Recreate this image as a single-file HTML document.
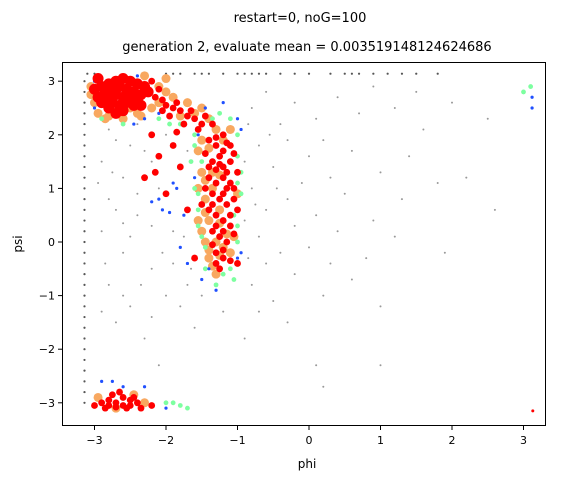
<!DOCTYPE html>
<html><head><meta charset="utf-8"><style>
body{margin:0;background:#fff;font-family:"Liberation Sans","DejaVu Sans",sans-serif;}
svg text{font-family:"DejaVu Sans","Liberation Sans",sans-serif;}
</style></head><body>
<svg id="chart" width="565" height="480" viewBox="0 0 565 480" xmlns="http://www.w3.org/2000/svg">
<text x="300" y="22" font-size="13" text-anchor="middle">restart=0, noG=100</text>
<text x="307" y="51" font-size="13" text-anchor="middle">generation 2, evaluate mean = 0.003519148124624686</text>
<g id="marks"></g>
<rect x="62.5" y="62.5" width="483" height="363" fill="none" stroke="#000" stroke-width="1"/>
<g id="axes"></g>
<text x="307" y="468" font-size="12" text-anchor="middle">phi</text>
<text x="22" y="244" font-size="12" text-anchor="middle" transform="rotate(-90 22 244)">psi</text>
</svg>
<script>
const xTicks=[-3,-2,-1,0,1,2,3];
const yTicks=[-3,-2,-1,0,1,2,3];
const redPts=[[-2.9,2.9],[-2.8,2.95],[-2.7,3.0],[-2.6,3.05],[-2.5,3.0],[-2.4,2.95],[-2.3,2.9],[-2.85,2.8],[-2.75,2.85],[-2.65,2.9],[-2.55,2.85],[-2.45,2.8],[-2.35,2.75],[-2.25,2.8],[-2.95,2.7],[-2.8,2.7],[-2.7,2.75],[-2.6,2.7],[-2.5,2.7],[-2.4,2.65],[-2.9,2.6],[-2.75,2.6],[-2.65,2.55],[-2.55,2.6],[-2.45,2.55],[-2.8,2.5],[-2.6,2.45],[-2.7,2.4],[-2.15,2.7],[-2.05,2.65],[-2.0,2.55],[-1.9,2.5],[-1.8,2.45],[-1.7,2.35],[-1.6,2.3],[-1.5,2.2],[-1.95,2.35],[-1.75,2.2],[-3.0,2.85],[-2.95,3.05],[-2.2,3.0],[-2.1,2.85],[-2.35,2.55],[-1.85,2.6],[-1.65,2.45],[-1.45,2.35],[-1.35,2.2],[-1.55,2.1],[-2.05,2.45],
[-1.4,1.9],[-1.3,1.8],[-1.2,1.7],[-1.1,1.8],[-1.35,1.5],[-1.2,1.4],[-1.1,1.5],[-1.4,1.2],[-1.3,1.1],[-1.2,1.2],[-1.05,1.0],[-1.35,0.9],[-1.25,0.8],[-1.15,0.7],[-1.4,0.6],[-1.3,0.5],[-1.2,0.4],[-1.1,0.3],[-1.35,0.2],[-1.25,0.1],[-1.15,0.0],[-1.3,-0.2],[-1.2,-0.3],[-1.45,1.0],[-1.5,0.7],[-1.0,1.3],[-1.0,0.6],[-1.25,1.6],[-1.15,1.0],[-1.3,0.3],[-1.2,2.0],[-1.1,1.1],[-1.25,-0.5],[-1.3,1.95],[-1.15,1.85],[-1.05,1.65],[-1.3,1.35],[-1.15,1.3],[-1.05,0.8],[-1.2,0.9],[-1.35,0.7],[-1.1,0.5],[-1.2,0.2],[-1.05,0.15],[-1.35,-0.05],[-1.2,-0.15],[-1.1,-0.35],[-1.3,-0.4],[-1.4,1.4],[-1.45,1.65],[-1.25,1.45],
[-2.2,2.0],[-1.9,1.8],[-2.3,1.2],[-1.7,0.6],[-1.8,1.4],[-2.0,0.9],[-1.6,-0.3],[-1.0,-0.4],[-2.1,1.6],[-1.85,2.05],[-2.15,1.3],
[-2.9,-3.0],[-2.8,-2.95],[-2.7,-3.0],[-2.6,-3.05],[-2.5,-2.95],[-2.4,-3.0],[-2.75,-2.85],[-2.6,-2.9],[-2.85,-3.1],[-2.55,-3.1],[-2.35,-3.1],[-2.65,-2.8],[-2.2,-3.05],[-3.0,-3.05],[-2.7,-3.08],[-2.5,-3.05],[-2.8,-3.05],[-2.45,-2.9],[3.13,-3.15]];
const orangePts=[[-3.05,2.9],[-3.0,2.6],[-2.95,2.4],[-2.85,2.3],[-2.6,2.3],[-2.4,2.4],[-2.2,2.5],[-2.1,2.9],[-2.0,3.05],[-2.3,3.1],[-1.9,2.7],[-1.7,2.6],[-1.5,2.5],[-1.4,2.3],[-1.3,2.1],[-1.55,1.7],[-1.5,1.3],[-1.55,0.4],[-1.45,0.0],[-1.4,-0.3],[-1.3,-0.6],[-1.1,-0.2],[-1.05,0.1],[-1.0,0.9],[-1.1,2.1],[-1.45,0.8],[-1.35,1.3],[-1.25,0.6],[-1.4,0.4],[-1.2,-0.1],[-2.95,-2.9],[-2.45,-2.85],[-2.3,-3.0],[-2.7,-3.1],[-2.5,2.5],[-1.45,0.55],[-1.5,0.2],[-1.4,-0.15],[-1.3,0.0],[-1.25,0.35],[-1.35,1.0],[-1.45,1.15],[-1.25,1.25],[-1.4,1.75],[-1.2,1.9],[-1.15,0.15],[-1.25,-0.25],[-1.35,-0.45],[-1.6,2.4],[-1.8,2.35],[-2.1,2.6],[-2.35,2.35],[-2.8,2.35],[-3.05,2.75],[-2.0,2.8],[-1.55,1.0],[-1.5,1.9]];
const greenPts=[[-1.0,1.6],[-1.05,0.5],[-1.55,0.3],[-1.5,1.5],[-1.6,2.0],[-1.8,2.2],[-1.0,2.0],[-0.95,0.9],[-1.45,-0.1],[-1.1,-0.5],[-2.0,-3.0],[-1.8,-3.05],[-1.7,-3.1],[-2.9,2.3],[-1.35,2.3],[-1.6,1.0],[3.1,2.9],[3.0,2.8],[-1.1,2.3],[-1.2,-0.6],[-1.55,0.9],[-1.5,0.1],[-1.0,0.3],[-1.3,-0.8],[-1.65,1.5],[-0.95,1.3],[-2.6,2.2],[-2.1,2.3],[-1.55,0.6],[-1.0,0.0],[-1.0,1.1],[-1.6,1.8],[-1.45,-0.5],[-1.05,-0.7],[-1.9,-3.0],[-1.95,2.2],[-1.25,2.4]];
const bluePts=[[-3.0,2.5],[-2.3,2.3],[-2.1,2.4],[-1.9,1.1],[-2.1,0.8],[-1.75,0.5],[-1.6,1.2],[-1.0,2.3],[-1.2,2.6],[-1.45,2.5],[-1.8,-0.1],[-1.0,-0.3],[-1.4,-0.5],[-2.9,-2.6],[-2.3,-2.7],[-2.0,-3.1],[3.12,2.7],[3.12,2.5],[-1.55,2.0],[-2.4,3.1],[-2.05,0.6],[-1.85,1.0],[-0.95,-0.2],[-1.5,-0.7],[-2.6,-2.7],[-2.2,0.75],[-1.95,0.55],[-1.7,-0.4],[-1.3,-0.9],[-0.95,2.1],[-2.45,2.2],[-3.0,3.0],[-2.75,-2.6]];
const grayLineY=[-3.0,-2.8,-2.6,-2.4,-2.2,-2.0,-1.8,-1.6,-1.4,-1.2,-1.0,-0.8,-0.6,-0.4,-0.2,0.0,0.2,0.4,0.6,0.8,1.0,1.2,1.4,1.6,1.8,2.0,2.2,2.4,2.6,2.8,3.0];
const grayLineX=[-3.1,-3.0,-2.0,-1.9,-1.8,-1.6,-1.5,-1.4,-1.2,-1.0,-0.9,-0.8,-0.7,-0.6,-0.4,-0.2,0.0,0.3,0.5,0.6,0.7,0.9,1.1,1.3,1.5,1.8];
const grayPts=[[-2.8,2.1],[-2.5,1.8],[-2.9,1.5],[-2.6,1.2],[-2.8,0.8],[-2.4,0.5],[-2.9,0.2],[-2.6,-0.2],[-2.2,-0.5],[-2.8,-0.8],[-2.5,-1.2],[-2.0,-1.0],[-1.7,-0.8],[-1.9,0.2],[-2.2,1.5],[-1.7,1.7],[-2.4,2.2],[-0.8,2.5],[-0.6,2.8],[-0.4,2.2],[-0.2,2.6],[0.1,2.3],[0.4,2.7],[0.7,2.4],[0.9,2.9],[1.2,2.5],[1.5,2.8],[-0.7,1.8],[-0.5,1.4],[-0.3,1.9],[0.0,1.6],[0.3,1.2],[0.6,1.7],[1.0,1.3],[1.4,1.6],[-0.8,1.0],[-0.6,0.6],[-0.3,0.8],[0.1,0.5],[0.5,0.9],[0.9,0.4],[1.3,0.8],[1.8,1.1],[-0.7,0.1],[-0.4,-0.2],[0.0,-0.1],[0.4,0.2],[0.8,-0.3],[1.2,0.1],[-0.8,-0.8],[-0.5,-1.1],[-0.2,-0.6],[0.2,-1.0],[0.6,-0.7],[1.0,-1.2],[-1.2,-1.3],[-1.6,-1.6],[-0.9,-1.8],[-0.3,-1.5],[0.1,-2.3],[0.2,-2.7],[1.0,-2.3],[-2.3,-1.8],[-2.7,-1.5],[-2.1,-2.3],[2.0,2.6],[2.5,2.3],[2.2,1.2],[1.9,-0.2],[2.6,0.6],[-1.5,-1.0],[-2.0,2.0],[-1.9,-0.4],[-0.9,0.4],[-0.1,1.1],[1.6,2.1],
[-2.7,1.9],[-2.3,1.7],[-2.95,1.1],[-2.4,0.9],[-2.7,0.6],[-2.2,0.3],[-2.5,0.1],[-2.85,-0.4],[-2.35,-0.8],[-2.05,-0.2],[-1.75,0.1],[-1.65,-0.5],[-2.6,-1.0],[-2.9,-1.3],[-2.2,-1.4],[-1.8,-1.2],[-0.85,2.2],[-0.9,1.5],[-0.75,0.7],[-0.55,2.0],[-0.45,1.0],[-0.2,0.3],[0.2,1.9],[0.3,-0.4],[-0.6,-0.4],[-0.85,-0.3],[-0.7,-1.3],[-2.6,0.35],[-2.75,1.3],[-2.1,1.0]];

const X0=309,XS=71.5,Y0=242,YS=53.6;
function sx(v){return X0+v*XS;}
function sy(v){return Y0-v*YS;}
const NS='http://www.w3.org/2000/svg';
const marks=document.getElementById('marks');
function dot(x,y,r,c,name){
  const e=document.createElementNS(NS,'circle');
  e.setAttribute('cx',sx(x));e.setAttribute('cy',sy(y));e.setAttribute('r',r);e.setAttribute('fill',c);
  
  
  marks.appendChild(e);
}
grayLineY.forEach(v=>dot(-3.14,v,1.1,'#555','gray-point'));
grayLineX.forEach(v=>dot(v,3.14,1.1,'#555','gray-point'));
grayPts.forEach(p=>dot(p[0],p[1],1,'#999','gray-point'));
orangePts.forEach(p=>dot(p[0],p[1],4.5,'#f8a860','orange-point'));
greenPts.forEach(p=>dot(p[0],p[1],2.4,'#7dffa0','green-point'));
bluePts.forEach(p=>dot(p[0],p[1],1.6,'#2050ff','blue-point'));
redPts.forEach(p=>dot(p[0],p[1],p[0]>3?1.5:(p[1]>2.3&&p[0]<-2.2?5.5:3.4),'#ff0000','red-point'));

const axes=document.getElementById('axes');
xTicks.forEach(t=>{
  const l=document.createElementNS(NS,'line');
  l.setAttribute('x1',sx(t));l.setAttribute('x2',sx(t));l.setAttribute('y1',425.5);l.setAttribute('y2',430);l.setAttribute('stroke','#000');
  
  
  axes.appendChild(l);
  const tx=document.createElementNS(NS,'text');
  tx.setAttribute('x',sx(t));tx.setAttribute('y',444);tx.setAttribute('font-size','11');tx.setAttribute('text-anchor','middle');
  tx.textContent=t<0?'\u2212'+(-t):String(t);
  
  
  axes.appendChild(tx);
});
yTicks.forEach(t=>{
  const l=document.createElementNS(NS,'line');
  l.setAttribute('x1',58);l.setAttribute('x2',62.5);l.setAttribute('y1',sy(t));l.setAttribute('y2',sy(t));l.setAttribute('stroke','#000');
  
  
  axes.appendChild(l);
  const tx=document.createElementNS(NS,'text');
  tx.setAttribute('x',55);tx.setAttribute('y',sy(t)+4);tx.setAttribute('font-size','11');tx.setAttribute('text-anchor','end');
  tx.textContent=t<0?'\u2212'+(-t):String(t);
  
  
  axes.appendChild(tx);
});
</script>
</body></html>
